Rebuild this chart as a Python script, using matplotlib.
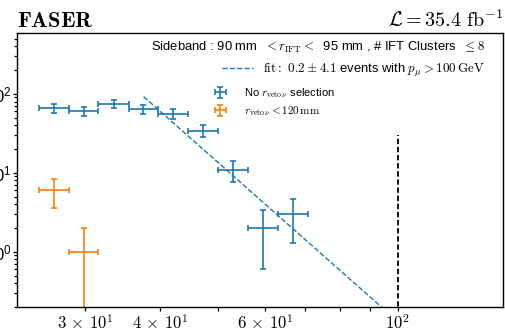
import matplotlib
matplotlib.use("Agg")
import matplotlib.pyplot as plt
import numpy as np
from matplotlib.ticker import FuncFormatter, LogLocator

plt.rcParams["font.family"] = ["Liberation Sans", "DejaVu Sans"]
plt.rcParams["mathtext.fontset"] = "cm"

# -----------------------------------------------------------------------------
# Data
# -----------------------------------------------------------------------------
bin_edges = [25.1, 28.2, 31.6, 35.5, 39.8, 44.7, 50.1, 56.2, 63.1, 70.8]

counts_all = [66, 60, 75, 64, 56, 34, 11, 2, 3]
errors_all = [8.1, 7.7, 8.7, 8.0, 7.5, 5.8, 3.3, 1.4, 1.7]

counts_veto = [6, 1]
errors_veto = [2.4, 1.0]

# power-law fit drawn as dashed line
fit_norm = 61.0      # events at 40 GeV
fit_pivot = 40.0
fit_index = -6.7
fit_range = (37.6, 100.0)

cut_value = 100.0    # p_mu threshold
cut_top = 30.0

BLUE = "#1f77b4"
ORANGE = "#ff7f0e"


def bins_from_edges(edges, n):
    lo = np.array(edges[:n])
    hi = np.array(edges[1:n + 1])
    centres = np.sqrt(lo * hi)
    return centres, np.vstack([centres - lo, hi - centres])


def sci_label(x, pos):
    exp = int(np.floor(np.log10(x) + 1e-9))
    coeff = int(round(x / 10 ** exp))
    if coeff == 1:
        return rf"$10^{{{exp}}}$"
    if coeff in (3, 4, 6):
        return rf"${coeff}\,\times\,10^{{{exp}}}$"
    return ""


fig = plt.figure(figsize=(5.06, 3.30), dpi=100)
ax = fig.add_axes([17 / 506, 23 / 330, 486 / 506, 274 / 330])

x_all, xerr_all = bins_from_edges(bin_edges, len(counts_all))
x_veto, xerr_veto = bins_from_edges(bin_edges, len(counts_veto))

eb_all = ax.errorbar(x_all, counts_all, xerr=xerr_all, yerr=errors_all, fmt="none",
                     ecolor=BLUE, elinewidth=1.2, capsize=2.3, capthick=1.2,
                     label=r"No $r_{\mathrm{veto}\,\nu}$ selection")
eb_veto = ax.errorbar(x_veto, counts_veto, xerr=xerr_veto, yerr=errors_veto, fmt="none",
                      ecolor=ORANGE, elinewidth=1.2, capsize=2.3, capthick=1.2,
                      label=r"$r_{\mathrm{veto}\,\nu} < 120\,\mathrm{mm}$")

fit_x = np.geomspace(*fit_range, 50)
fit_y = fit_norm * (fit_x / fit_pivot) ** fit_index
(fit_line,) = ax.plot(fit_x, fit_y, color=BLUE, linestyle="--", linewidth=1.0,
                      label=r"$\mathrm{fit{:}}\ 0.2 \pm 4.1$ events with $p_{\mu} > 100\,\mathrm{GeV}$")

ax.vlines(cut_value, 1e-3, cut_top, colors="black", linestyles=(0, (3, 1.5)), linewidth=1.3)

ax.set_xscale("log")
ax.set_yscale("log")
ax.set_xlim(23.1, 150)
ax.set_ylim(0.2, 590)

ax.xaxis.set_major_formatter(FuncFormatter(sci_label))
ax.xaxis.set_minor_formatter(FuncFormatter(sci_label))
ax.yaxis.set_minor_locator(LogLocator(base=10, subs=np.arange(2, 10), numticks=20))

ax.tick_params(axis="both", which="both", labelsize=12, length=3, width=0.9)
ax.tick_params(axis="x", which="both", pad=1.2)
ax.tick_params(axis="y", which="both", pad=1.0)
ax.tick_params(axis="y", which="minor", length=2.5)
for spine in ax.spines.values():
    spine.set_linewidth(1.0)

ax.set_title(r"$\mathbf{FASER}$", loc="left", fontsize=16, pad=3)
ax.set_title(r"$\mathcal{L} = 35.4\ \mathrm{fb}^{-1}$", loc="right", fontsize=14.5, pad=4)

leg_fit = ax.legend(
    handles=[fit_line], loc="upper right", frameon=False, fontsize=9.4,
    title=r"Sideband : 90 mm  $< r_{\mathrm{IFT}} <$  95 mm , # IFT Clusters  $\leq 8$",
    title_fontsize=9.4, alignment="right",
    bbox_to_anchor=((485 - 17) / 486, (307 - 40) / 274), borderaxespad=0, borderpad=0,
    handlelength=2.4, handletextpad=0.8,
)
ax.add_artist(leg_fit)

ax.legend(
    handles=[eb_all, eb_veto], loc="upper left", frameon=False, fontsize=8,
    bbox_to_anchor=((214 - 17) / 486, (307 - 86) / 274), borderaxespad=0, borderpad=0,
    handlelength=1.1, handletextpad=1.6, labelspacing=0.4,
)

fig.savefig("out.png", dpi=100)
